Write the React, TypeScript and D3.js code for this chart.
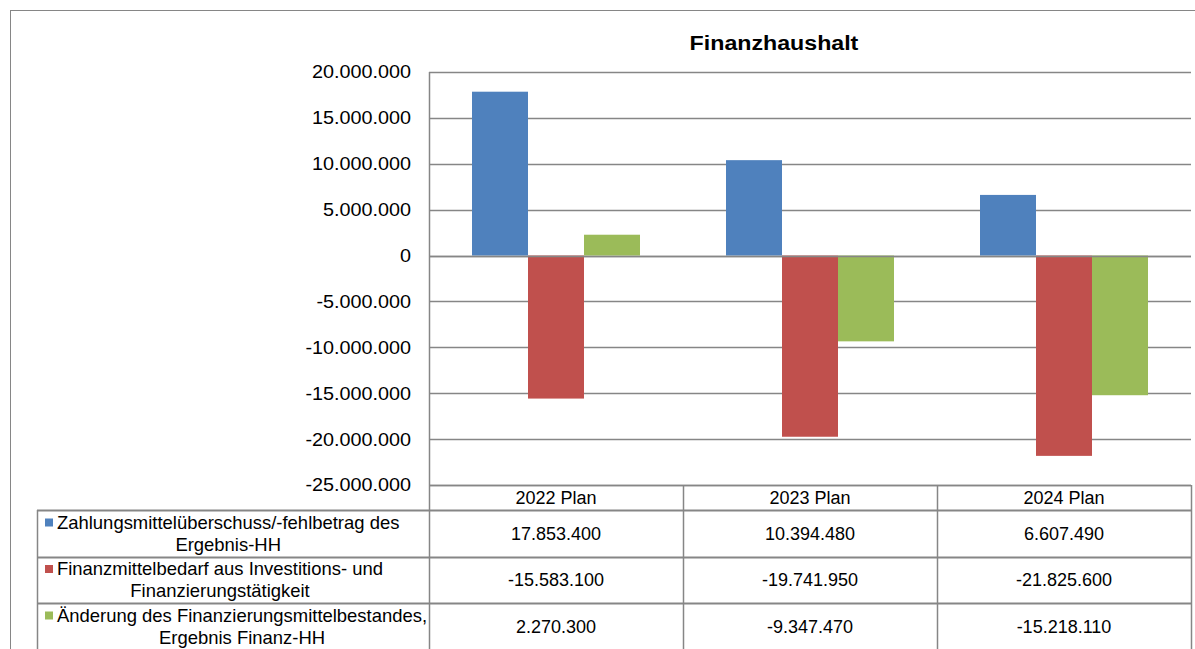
import * as d3 from 'd3';
import React, { useRef, useEffect } from 'react';

const categories = ['2022 Plan', '2023 Plan', '2024 Plan'];
const seriesNames = [
  ['Zahlungsmittelüberschuss/-fehlbetrag des', 'Ergebnis-HH'],
  ['Finanzmittelbedarf aus Investitions- und', 'Finanzierungstätigkeit'],
  ['Änderung des Finanzierungsmittelbestandes,', 'Ergebnis Finanz-HH'],
];
const zahlungsmittel = [17853400, 10394480, 6607490];
const finanzmittelbedarf = [-15583100, -19741950, -21825600];
const aenderung = [2270300, -9347470, -15218110];
const seriesValues = [zahlungsmittel, finanzmittelbedarf, aenderung];
const colors = ['#4F81BD', '#C0504D', '#9BBB59'];
const yTicks = [20000000, 15000000, 10000000, 5000000, 0, -5000000, -10000000, -15000000, -20000000, -25000000];

const W = 1195;
const H = 649;
const FONT = '"Liberation Sans", Arial, sans-serif';
const GRID = '#868686';

function App() {
  const ref = useRef<SVGSVGElement>(null);

  useEffect(() => {
    const svg = d3.select(ref.current);
    svg.selectAll('*').remove();

    const de = d3.formatLocale({ decimal: ',', thousands: '.', grouping: [3], currency: ['', ' €'], minus: '-' });
    const fmt = de.format(',.0f');

    const left = 429, right = 1191, top = 72, bottom = 485;
    const y = d3.scaleLinear().domain([-25000000, 20000000]).range([bottom, top]);
    const x = d3.scaleBand().domain(categories).range([left, right]).padding(0);
    const inner = d3.scaleBand().domain(d3.range(3).map(String))
      .range([43, x.bandwidth() - 43]).padding(0);

    // outer frame
    svg.append('rect').attr('x', 10.5).attr('y', 10.5).attr('width', W + 20).attr('height', H + 20)
      .attr('fill', 'none').attr('stroke', GRID).attr('stroke-width', 1);

    // title
    svg.append('text').attr('x', 774).attr('y', 50).attr('text-anchor', 'middle')
      .attr('font-family', FONT).attr('font-weight', 'bold').attr('font-size', 20)
      .attr('transform', 'translate(774,0) scale(1.16,1) translate(-774,0)')
      .text('Finanzhaushalt');

    // gridlines
    svg.append('g').selectAll('line').data(yTicks).enter().append('line')
      .attr('x1', left).attr('x2', right)
      .attr('y1', d => Math.round(y(d)) + 0.5).attr('y2', d => Math.round(y(d)) + 0.5)
      .attr('stroke', GRID).attr('stroke-width', 1.5);

    // tick labels
    svg.append('g').selectAll('text').data(yTicks).enter().append('text')
      .attr('x', 411).attr('y', d => y(d)).attr('dy', '0.36em')
      .attr('text-anchor', 'end').attr('font-family', FONT).attr('font-size', 18)
      .attr('transform', 'translate(411,0) scale(1.1,1) translate(-411,0)')
      .text(d => fmt(d));

    // bars
    seriesValues.forEach((vals, si) => {
      svg.append('g').selectAll('rect').data(vals).enter().append('rect')
        .attr('x', (d, i) => (x(categories[i]) as number) + (inner(String(si)) as number))
        .attr('width', inner.bandwidth())
        .attr('y', d => y(Math.max(0, d)))
        .attr('height', d => Math.abs(y(d) - y(0)))
        .attr('fill', colors[si]);
    });

    // zero line on top of bars
    svg.append('line').attr('x1', left).attr('x2', right)
      .attr('y1', Math.round(y(0)) + 0.5).attr('y2', Math.round(y(0)) + 0.5)
      .attr('stroke', GRID).attr('stroke-width', 1.5);

    // y axis line
    svg.append('line').attr('x1', left + 0.5).attr('x2', left + 0.5).attr('y1', top).attr('y2', H)
      .attr('stroke', GRID).attr('stroke-width', 1.5);

    // data table
    const rowTops = [bottom, 510, 557, 603, 660];
    const legLeft = 37;
    const t = svg.append('g').attr('font-family', FONT).attr('font-size', 18).attr('fill', '#000');

    // horizontal table lines
    t.selectAll('line.h').data(rowTops.slice(0, 4)).enter().append('line')
      .attr('x1', (d, i) => (i === 0 ? left : legLeft)).attr('x2', right)
      .attr('y1', d => d + 0.5).attr('y2', d => d + 0.5)
      .attr('stroke', GRID).attr('stroke-width', (d, i) => (i === 0 ? 1.5 : 2));
    // vertical lines
    const vx = categories.map(c => (x(c) as number) + x.bandwidth());
    t.selectAll('line.v').data(vx).enter().append('line')
      .attr('x1', d => d + 0.5).attr('x2', d => d + 0.5).attr('y1', bottom).attr('y2', H)
      .attr('stroke', GRID).attr('stroke-width', 1.5);
    t.append('line').attr('x1', legLeft + 0.5).attr('x2', legLeft + 0.5).attr('y1', 510).attr('y2', H)
      .attr('stroke', GRID).attr('stroke-width', 1.5);

    // header
    t.selectAll('text.hd').data(categories).enter().append('text')
      .attr('x', d => (x(d) as number) + x.bandwidth() / 2).attr('y', (bottom + 510) / 2).attr('dy', '0.36em')
      .attr('text-anchor', 'middle').text(d => d);

    const sqX = 45, txX = 57, stretch = 1.025;
    seriesValues.forEach((vals, si) => {
      const r0 = rowTops[si + 1];
      const r1 = si === 2 ? 650 : rowTops[si + 2];
      const mid = (r0 + r1) / 2;
      // values
      vals.forEach((v, i) => {
        t.append('text').attr('x', (x(categories[i]) as number) + x.bandwidth() / 2)
          .attr('y', mid).attr('dy', '0.36em').attr('text-anchor', 'middle').text(fmt(v));
      });
      // legend label: square + first line, second line centred under it
      t.append('rect').attr('x', sqX).attr('y', mid - 15)
        .attr('width', 8).attr('height', 8).attr('fill', colors[si]);
      const l1 = t.append('text').attr('x', txX).attr('y', mid - 11).attr('dy', '0.36em')
        .attr('transform', `translate(${txX},0) scale(${stretch},1) translate(${-txX},0)`)
        .text(seriesNames[si][0]);
      const len = (l1.node() as SVGTextElement).getComputedTextLength() * stretch;
      const c2 = (sqX + txX + len) / 2 + 6;
      t.append('text').attr('x', c2).attr('y', mid + 11).attr('dy', '0.36em')
        .attr('text-anchor', 'middle')
        .attr('transform', `translate(${c2},0) scale(${stretch},1) translate(${-c2},0)`)
        .text(seriesNames[si][1]);
    });
  }, []);

  return (
    <svg ref={ref} width={W} height={H}
      style={{ position: 'absolute', left: 0, top: 0, background: '#fff' }} />
  );
}

export default App;
